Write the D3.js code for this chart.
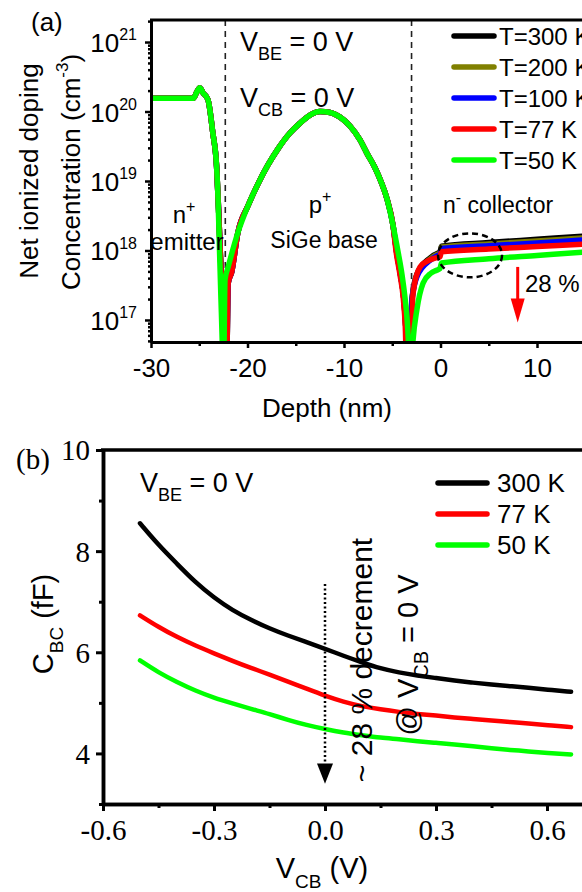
<!DOCTYPE html>
<html><head><meta charset="utf-8">
<script src="https://cdn.jsdelivr.net/npm/d3@7"></script>
<style>body{margin:0;background:#fff}svg{display:block}</style>
</head><body>
<script>
// ===== Panel (a): net ionized doping vs depth =====
const tempLabelsA = ['T=300 K', 'T=200 K', 'T=100 K', 'T=77 K', 'T=50 K'];
const colorsA = ['#000000', '#808000', '#0000ff', '#ff0000', '#00ff00'];
// shared emitter plateau
const depthEmit = [-30, -25.6, -25.3, -24.95, -24.6, -24.1, -23.6, -23.2];
const concEmit = [1.55e20, 1.55e20, 1.85e20, 2.2e20, 1.85e20, 1.48e20, 5e19, 1.6e19];
// shared SiGe base profile
const depthBase = [-21.0, -19.95, -18.91, -17.88, -16.84, -15.6, -14.56, -13.52, -12.49, -11.45, -10.41, -9.38, -8.34, -7.62, -6.79, -6.17, -5.54, -4.92];
const concBase = [1.8e18, 4.4e18, 9.1e18, 1.7e19, 2.9e19, 4.9e19, 6.8e19, 8.9e19, 1e20, 9.7e19, 8.3e19, 6.2e19, 3.9e19, 2.5e19, 1.55e19, 9.8e18, 5.5e18, 2.3e18];
// E-B junction
const depthEBJ = [-23.0, -22.8, -22.6, -22.4, -22.2, -22.0, -21.64];
const concEBJ = [4e18, 8e17, 2e17, 6e16, 1e16, 3.4e17, 4.9e17];
const depthEBJ50 = [-23.05, -22.9, -22.75, -22.62, -22.5, -22.33, -22.0];
const concEBJ50 = [5.4e18, 1e18, 2e17, 5e16, 1e16, 3.8e17, 5.8e17];
// B-C junction + n- collector
const depthBC = [-4.55, -4.15, -3.8, -3.6, -3.35, -3.1, -2.95, -2.44, -1.09, -0.26, -0.05, 0.1, 5, 10, 15, 20];
const concBC300 = [9.6e17, 4.5e17, 2e17, 8e16, 1e16, 6e16, 2.05e17, 4.6e17, 7.8e17, 9.2e17, 9.4e17, 1.15e18, 1.3e18, 1.45e18, 1.62e18, 1.78e18];
const concBC200 = [9.6e17, 4.5e17, 2e17, 8e16, 1e16, 6e16, 2e17, 4.4e17, 7.5e17, 8.9e17, 9.1e17, 1.12e18, 1.24e18, 1.37e18, 1.52e18, 1.66e18];
const concBC100 = [9.6e17, 4.5e17, 2e17, 8e16, 1e16, 6e16, 1.95e17, 4.2e17, 7.2e17, 8.5e17, 8.7e17, 1.07e18, 1.17e18, 1.28e18, 1.42e18, 1.55e18];
const depthBC77 = [-4.6, -4.2, -3.85, -3.65, -3.45, -3.0, -2.85, -2.12, -1.2, -0.36, -0.05, 0.1, 5, 10, 15, 20];
const concBC77 = [9.6e17, 4.5e17, 2e17, 8e16, 1e16, 6e16, 2.4e17, 5.8e17, 7.2e17, 7.9e17, 8.1e17, 9.6e17, 1.05e18, 1.14e18, 1.24e18, 1.34e18];
const depthBC50 = [-4.4, -3.99, -3.68, -3.47, -3.33, -3.15, -2.85, -2.45, -1.8, -1.0, -0.4, -0.05, 0.1, 5, 10, 15, 20];
const concBC50 = [9.6e17, 4.5e17, 2.1e17, 1.07e17, 5e16, 1e16, 5e16, 1.4e17, 3.4e17, 4.7e17, 5.2e17, 5.5e17, 6.6e17, 7.6e17, 8.5e17, 9.5e17, 1.05e18];
const depthTicksA = [-30, -20, -10, 0, 10, 20];
const depthMinorA = [-25, -15, -5, 5, 15];
const concTicksA = [1e17, 1e18, 1e19, 1e20, 1e21];
const junctionsA = [-22.3, -3.0];

// ===== Panel (b): C_BC vs V_CB =====
const tempLabelsB = ['300 K', '77 K', '50 K'];
const colorsB = ['#000000', '#ff0000', '#00ff00'];
const vcb = [-0.5, -0.45, -0.4, -0.35, -0.3, -0.25, -0.2, -0.15, -0.1, -0.05, 0, 0.05, 0.1, 0.15, 0.2, 0.25, 0.3, 0.35, 0.4, 0.45, 0.5, 0.55, 0.6, 0.665];
const cbc300 = [8.55, 8.12, 7.75, 7.38, 7.08, 6.83, 6.64, 6.47, 6.33, 6.2, 6.07, 5.93, 5.8, 5.68, 5.6, 5.54, 5.49, 5.44, 5.4, 5.36, 5.33, 5.3, 5.26, 5.22];
const cbc77 = [6.73, 6.5, 6.3, 6.13, 5.98, 5.83, 5.69, 5.56, 5.42, 5.28, 5.14, 5.02, 4.93, 4.87, 4.82, 4.78, 4.75, 4.71, 4.68, 4.65, 4.62, 4.59, 4.56, 4.52];
const cbc50 = [5.84, 5.6, 5.41, 5.24, 5.1, 4.99, 4.88, 4.78, 4.66, 4.56, 4.48, 4.41, 4.36, 4.31, 4.28, 4.24, 4.21, 4.18, 4.14, 4.1, 4.07, 4.04, 4.01, 3.98];
const vTicksB = [-0.6, -0.3, 0, 0.3, 0.6];
const vMinorB = [-0.45, -0.15, 0.15, 0.45];
const cTicksB = [4, 6, 8, 10];
const cMinorB = [3, 5, 7, 9];

const SANS = '"Liberation Sans", Arial, sans-serif';
const SERIF = '"Liberation Serif", "Times New Roman", serif';

const svg = d3.select('body').append('svg').attr('width', 582).attr('height', 892);

function rich(g, x, y, parts, size, opts = {}) {
  const t = g.append('text').attr('x', x).attr('y', y)
    .attr('font-family', opts.family || SANS).attr('font-size', size)
    .attr('text-anchor', opts.anchor || 'start').attr('fill', opts.fill || '#000');
  let cur = 0;
  parts.forEach(p => {
    const fs = p.s ? (p.size || Math.round(size * 0.64)) : size;
    const shift = p.s === 'sub' ? size * 0.33 : p.s === 'sup' ? -size * 0.45 : 0;
    t.append('tspan').attr('dy', shift - cur).attr('font-size', fs).text(p.t);
    cur = shift;
  });
  return t;
}

// ---------- Panel (a) ----------
const xa = d3.scaleLinear().domain([-30, 20]).range([151, 633.5]);
const ya = d3.scaleLog().domain([Math.pow(10, 16.683), Math.pow(10, 21.317)]).range([342, 20]);
const ga = svg.append('g');
ga.append('clipPath').attr('id', 'clipA').append('rect')
  .attr('x', 151).attr('y', 20).attr('width', 483).attr('height', 322);

const seriesA = [
  { depth: depthEmit.concat(depthEBJ, depthBase, depthBC), conc: concEmit.concat(concEBJ, concBase, concBC300) },
  { depth: depthEmit.concat(depthEBJ, depthBase, depthBC), conc: concEmit.concat(concEBJ, concBase, concBC200) },
  { depth: depthEmit.concat(depthEBJ, depthBase, depthBC), conc: concEmit.concat(concEBJ, concBase, concBC100) },
  { depth: depthEmit.concat(depthEBJ, depthBase, depthBC77), conc: concEmit.concat(concEBJ, concBase, concBC77) },
  { depth: depthEmit.concat(depthEBJ50, depthBase, depthBC50), conc: concEmit.concat(concEBJ50, concBase, concBC50) }
];
const lineA = d3.line().x(d => xa(d[0])).y(d => ya(d[1])).curve(d3.curveMonotoneX);

ga.selectAll('.junc').data(junctionsA).enter().append('line')
  .attr('x1', d => xa(d)).attr('x2', d => xa(d)).attr('y1', 20).attr('y2', 342)
  .attr('stroke', '#222').attr('stroke-width', 1.6).attr('stroke-dasharray', '6,5');

const curvesA = ga.append('g').attr('clip-path', 'url(#clipA)');
seriesA.forEach((s, i) => {
  curvesA.append('path').datum(s.depth.map((d, k) => [d, s.conc[k]]))
    .attr('d', lineA).attr('fill', 'none').attr('stroke', colorsA[i])
    .attr('stroke-width', 5.5).attr('stroke-linejoin', 'round');
});

const axA = ga.append('g').attr('transform', 'translate(0,342)')
  .call(d3.axisBottom(xa).tickValues(depthTicksA).tickSize(6).tickSizeOuter(0).tickPadding(9).tickFormat(d => String(d)));
ga.append('g').attr('transform', 'translate(0,342)')
  .call(d3.axisBottom(xa).tickValues(depthMinorA).tickSize(4).tickSizeOuter(0).tickFormat(''));
const minorConc = [];
[16, 17, 18, 19, 20, 21].forEach(e => { for (let k = 2; k <= 9; k++) { const v = k * Math.pow(10, e); if (v > ya.domain()[0] && v < ya.domain()[1]) minorConc.push(v); } });
ga.append('g').attr('transform', 'translate(151,0)')
  .call(d3.axisLeft(ya).tickValues(minorConc).tickSize(3).tickSizeOuter(0).tickFormat(''));
ga.append('g').attr('transform', 'translate(151,0)')
  .call(d3.axisLeft(ya).tickValues(concTicksA).tickSize(6).tickSizeOuter(0).tickFormat(''));
ga.selectAll('.domain').attr('stroke-width', 3);
ga.selectAll('.tick line').attr('stroke-width', 2.5);
axA.selectAll('text').attr('font-family', SANS).attr('font-size', 26).attr('fill', '#000').attr('dy', '0.75em');
ga.append('line').attr('x1', 150).attr('x2', 634).attr('y1', 20).attr('y2', 20).attr('stroke', '#000').attr('stroke-width', 3);

concTicksA.forEach(v => {
  rich(ga, 137, ya(v) + 10, [{ t: '10' }, { t: String(Math.round(Math.log10(v))), s: 'sup', size: 16 }], 26, { anchor: 'end' });
});

rich(ga, 327, 417, [{ t: 'Depth (nm)' }], 26, { anchor: 'middle' });
const yta = ga.append('g').attr('transform', 'translate(38,171) rotate(-90)');
rich(yta, 0, 0, [{ t: 'Net ionized doping' }], 26, { anchor: 'middle' });
const yta2 = ga.append('g').attr('transform', 'translate(80,172) rotate(-90)');
rich(yta2, 0, 0, [{ t: 'Concentration (cm' }, { t: '-3', s: 'sup', size: 17 }, { t: ')' }], 26, { anchor: 'middle' });

rich(ga, 31, 31, [{ t: '(a)' }], 26);
rich(ga, 240, 51, [{ t: 'V' }, { t: 'BE', s: 'sub', size: 18 }, { t: ' = 0 V' }], 27);
rich(ga, 240, 107, [{ t: 'V' }, { t: 'CB', s: 'sub', size: 18 }, { t: ' = 0 V' }], 27);
rich(ga, 184, 223, [{ t: 'n' }, { t: '+', s: 'sup', size: 16 }], 24, { anchor: 'middle' });
rich(ga, 187, 250, [{ t: 'emitter' }], 24, { anchor: 'middle' });
rich(ga, 320, 213, [{ t: 'p' }, { t: '+', s: 'sup', size: 16 }], 24, { anchor: 'middle' });
rich(ga, 324, 248, [{ t: 'SiGe base' }], 23, { anchor: 'middle' });
rich(ga, 443, 213, [{ t: 'n' }, { t: '-', s: 'sup', size: 16 }, { t: ' collector' }], 23);
rich(ga, 525, 292, [{ t: '28 %' }], 24);

tempLabelsA.forEach((lab, i) => {
  const y = 36 + i * 31;
  ga.append('line').attr('x1', 454).attr('x2', 494).attr('y1', y).attr('y2', y)
    .attr('stroke', colorsA[i]).attr('stroke-width', 5.5).attr('stroke-linecap', 'round');
  rich(ga, 499, y + 9, [{ t: lab }], 24);
});

ga.append('ellipse').attr('cx', xa(3.06)).attr('cy', ya(Math.pow(10, 17.93)))
  .attr('rx', 32).attr('ry', 22).attr('fill', 'none').attr('stroke', '#000')
  .attr('stroke-width', 2.5).attr('stroke-dasharray', '6,4');
const ax8 = xa(8), ay1 = ya(5.8e17), ay2 = ya(9.2e16);
ga.append('line').attr('x1', ax8).attr('x2', ax8).attr('y1', ay1).attr('y2', ay2 - 20)
  .attr('stroke', '#ff0000').attr('stroke-width', 3);
ga.append('path').attr('d', `M${ax8 - 7},${ay2 - 24} L${ax8 + 7},${ay2 - 24} L${ax8},${ay2} Z`).attr('fill', '#ff0000');

// ---------- Panel (b) ----------
const xb = d3.scaleLinear().domain([-0.6, 0.7]).range([103, 584]);
const yb = d3.scaleLinear().domain([3, 10]).range([804, 450]);
const gb = svg.append('g');
const seriesB = [cbc300, cbc77, cbc50];
const lineB = d3.line().x(d => xb(d[0])).y(d => yb(d[1])).curve(d3.curveBasis);
seriesB.forEach((s, i) => {
  gb.append('path').datum(vcb.map((v, k) => [v, s[k]])).attr('d', lineB)
    .attr('fill', 'none').attr('stroke', colorsB[i]).attr('stroke-width', 4.5)
    .attr('stroke-linecap', 'round');
});

const fmtB = d => d3.format('.1f')(d).replace('\u2212', '-');
const axBx = gb.append('g').attr('transform', 'translate(0,804)')
  .call(d3.axisBottom(xb).tickValues(vTicksB).tickSize(7).tickSizeOuter(0).tickPadding(8).tickFormat(fmtB));
gb.append('g').attr('transform', 'translate(0,804)')
  .call(d3.axisBottom(xb).tickValues(vMinorB).tickSize(4).tickSizeOuter(0).tickFormat(''));
const axBy = gb.append('g').attr('transform', 'translate(103,0)')
  .call(d3.axisLeft(yb).tickValues(cTicksB).tickSize(7).tickSizeOuter(0).tickPadding(6).tickFormat(d => String(d)));
gb.append('g').attr('transform', 'translate(103,0)')
  .call(d3.axisLeft(yb).tickValues(cMinorB).tickSize(4).tickSizeOuter(0).tickFormat(''));
gb.selectAll('.domain').attr('stroke-width', 3.5);
gb.selectAll('.tick line').attr('stroke-width', 3);
axBx.selectAll('text').attr('font-family', SERIF).attr('font-size', 29).attr('fill', '#000').attr('dy', '0.72em');
axBy.selectAll('text').attr('font-family', SERIF).attr('font-size', 29).attr('fill', '#000').attr('dy', '0.34em');
gb.append('line').attr('x1', 101).attr('x2', 584).attr('y1', 450).attr('y2', 450).attr('stroke', '#000').attr('stroke-width', 3.5);

rich(gb, 16, 469, [{ t: '(b)' }], 29, { family: SERIF });
rich(gb, 322, 878, [{ t: 'V' }, { t: 'CB', s: 'sub', size: 19 }, { t: ' (V)' }], 29, { anchor: 'middle' });
const ytb = gb.append('g').attr('transform', 'translate(53,624) rotate(-90)');
rich(ytb, 0, 0, [{ t: 'C' }, { t: 'BC', s: 'sub', size: 19 }, { t: ' (fF)' }], 29, { anchor: 'middle' });
rich(gb, 140, 492, [{ t: 'V' }, { t: 'BE', s: 'sub', size: 18 }, { t: ' = 0 V' }], 27);

tempLabelsB.forEach((lab, i) => {
  const y = 483 + i * 31;
  gb.append('line').attr('x1', 438).attr('x2', 487).attr('y1', y).attr('y2', y)
    .attr('stroke', colorsB[i]).attr('stroke-width', 5.5).attr('stroke-linecap', 'round');
  rich(gb, 497, y + 9, [{ t: lab }], 26);
});

const x0 = xb(0);
gb.append('line').attr('x1', x0).attr('x2', x0).attr('y1', yb(7.35)).attr('y2', yb(3.7))
  .attr('stroke', '#000').attr('stroke-width', 2.5).attr('stroke-dasharray', '2,2.5');
gb.append('path').attr('d', `M${x0 - 8},${yb(3.8)} L${x0 + 8},${yb(3.8)} L${x0},${yb(3.4)} Z`).attr('fill', '#000');

const an1 = gb.append('g').attr('transform', 'translate(372,660) rotate(-90)');
rich(an1, 0, 0, [{ t: '~ 28 % decrement' }], 30, { anchor: 'middle' });
const an2 = gb.append('g').attr('transform', 'translate(418,655) rotate(-90)');
rich(an2, 0, 0, [{ t: '@ V' }, { t: 'CB', s: 'sub', size: 20 }, { t: ' = 0 V' }], 29, { anchor: 'middle' });
</script>
</body></html>
